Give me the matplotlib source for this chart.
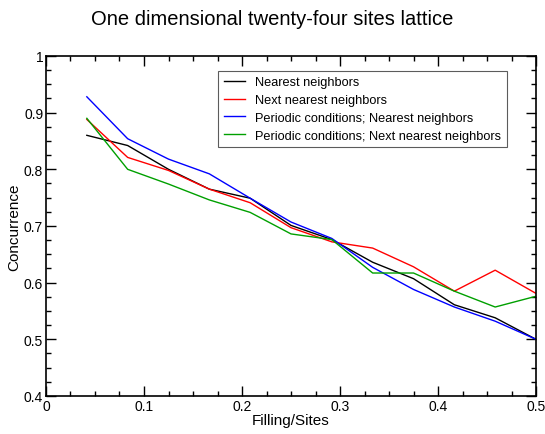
import numpy as np
import matplotlib
matplotlib.use('Agg')
import matplotlib.pyplot as plt
from matplotlib.ticker import MultipleLocator

plt.rcParams['font.family'] = ['Liberation Sans', 'DejaVu Sans']

# filling / sites, k/24
x = [1/24, 2/24, 3/24, 4/24, 5/24, 6/24, 7/24, 8/24, 9/24, 10/24, 11/24, 12/24]

nearest = [0.860, 0.842, 0.800, 0.765, 0.749, 0.701, 0.676, 0.636, 0.607, 0.561, 0.538, 0.500]
next_nearest = [0.888, 0.821, 0.798, 0.765, 0.741, 0.697, 0.672, 0.661, 0.628, 0.585, 0.622, 0.581]
per_nearest = [0.928, 0.854, 0.818, 0.792, 0.749, 0.707, 0.678, 0.627, 0.588, 0.557, 0.532, 0.500]
per_next = [0.890, 0.800, 0.774, 0.746, 0.724, 0.686, 0.676, 0.617, 0.617, 0.585, 0.557, 0.576]

labels = ['Nearest neighbors', 'Next nearest neighbors',
          'Periodic conditions; Nearest neighbors',
          'Periodic conditions; Next nearest neighbors']
xticks = [0, 0.1, 0.2, 0.3, 0.4, 0.5]
xtick_labels = ['0', '0.1', '0.2', '0.3', '0.4', '0.5']
yticks = [0.4, 0.5, 0.6, 0.7, 0.8, 0.9, 1.0]
ytick_labels = ['0.4', '0.5', '0.6', '0.7', '0.8', '0.9', '1']

fig = plt.figure(figsize=(5.45, 4.35), dpi=100)
ax = fig.add_axes([0.0844, 0.0874, 0.8991, 0.7816])

ax.plot(x, nearest, color='black', lw=1.0, label=labels[0])
ax.plot(x, next_nearest, color='#ff0000', lw=1.0, label=labels[1])
ax.plot(x, per_nearest, color='#0000ff', lw=1.0, label=labels[2])
ax.plot(x, per_next, color='#00a000', lw=1.0, label=labels[3])

ax.set_xlim(0, 0.5)
ax.set_ylim(0.4, 1.0)
ax.set_xticks(xticks)
ax.set_xticklabels(xtick_labels)
ax.set_yticks(yticks)
ax.set_yticklabels(ytick_labels)
ax.xaxis.set_minor_locator(MultipleLocator(0.025))
ax.yaxis.set_minor_locator(MultipleLocator(0.025))
ax.tick_params(which='both', direction='in', top=True, right=True, labelsize=10)
ax.tick_params(which='major', length=7, width=1, pad=2)
ax.tick_params(which='minor', length=3.5, width=1)
for s in ax.spines.values():
    s.set_linewidth(1.2)

ax.set_xlabel('Filling/Sites', fontsize=11, labelpad=0)
ax.set_ylabel('Concurrence', fontsize=11, labelpad=2)
fig.text(0.5, 0.955, 'One dimensional twenty-four sites lattice', ha='center', va='center', fontsize=14.5)

leg = ax.legend(loc='upper right', bbox_to_anchor=(0.940, 0.957), fontsize=9.2, frameon=True,
                fancybox=False, borderpad=0.45, handlelength=1.6, labelspacing=0.45,
                handletextpad=0.8, borderaxespad=0)
leg.get_frame().set_edgecolor('#333333')
leg.get_frame().set_linewidth(0.8)

fig.savefig('out.png', dpi=100)
